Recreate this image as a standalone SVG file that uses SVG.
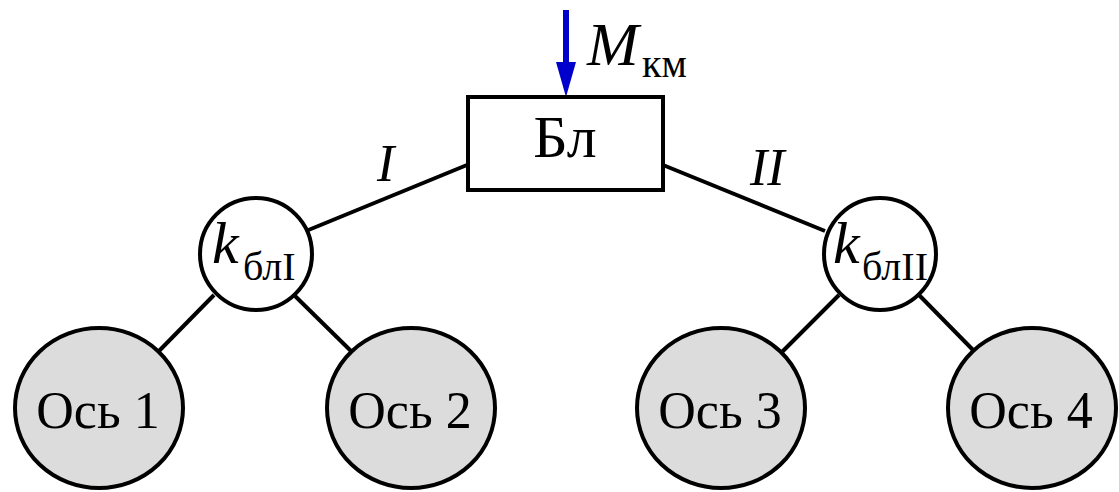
<svg xmlns="http://www.w3.org/2000/svg" width="1119" height="492" viewBox="0 0 1119 492">
<style>
.ln{stroke:#000;stroke-width:4;fill:none}
.sm{fill:#fff;stroke:#000;stroke-width:4}
.big{fill:#dcdcdc;stroke:#000;stroke-width:4}
text{font-family:'Liberation Serif','Times New Roman',serif;fill:#000}
.i{font-style:italic}
</style>
<rect width="1119" height="492" fill="#fff"/>
<g id="connectors">
<line class="ln" x1="467" y1="165" x2="306" y2="231"/>
<line class="ln" x1="663" y1="165" x2="825" y2="231"/>
<line class="ln" x1="214" y1="295" x2="158" y2="352"/>
<line class="ln" x1="294" y1="295" x2="352" y2="352"/>
<line class="ln" x1="839" y1="295" x2="782" y2="352"/>
<line class="ln" x1="919" y1="295" x2="975" y2="352"/>
<text class="i" x="377" y="181" font-size="52">I</text>
<text class="i" x="750" y="185" font-size="52">II</text>
</g>
<g id="load">
<line x1="566" y1="10" x2="566" y2="66" stroke="#0000cc" stroke-width="6"/>
<polygon points="556,62 576,62 566,97" fill="#0000cc"/>
<text class="i" x="587" y="65" font-size="62">M</text>
<text x="642" y="77" font-size="40">км</text>
</g>
<g id="bl">
<rect class="sm" x="468" y="97" width="195" height="93"/>
<text x="565" y="157" font-size="60" text-anchor="middle">Бл</text>
</g>
<g id="kI">
<circle class="sm" cx="256" cy="254" r="56"/>
<text class="i" x="212" y="263" font-size="60">k</text>
<text x="243" y="280" font-size="40">блI</text>
</g>
<g id="kII">
<circle class="sm" cx="880" cy="254" r="56"/>
<text class="i" x="833" y="263" font-size="60">k</text>
<text x="862" y="280" font-size="40">блII</text>
</g>
<g id="os1">
<ellipse class="big" cx="99" cy="408" rx="84" ry="80"/>
<text x="98" y="428" font-size="52" text-anchor="middle">Ось 1</text>
</g>
<g id="os2">
<ellipse class="big" cx="411" cy="408" rx="84" ry="80"/>
<text x="410" y="428" font-size="52" text-anchor="middle">Ось 2</text>
</g>
<g id="os3">
<ellipse class="big" cx="721" cy="408" rx="84" ry="80"/>
<text x="720" y="428" font-size="52" text-anchor="middle">Ось 3</text>
</g>
<g id="os4">
<ellipse class="big" cx="1032" cy="408" rx="84" ry="80"/>
<text x="1031" y="428" font-size="52" text-anchor="middle">Ось 4</text>
</g>
</svg>
